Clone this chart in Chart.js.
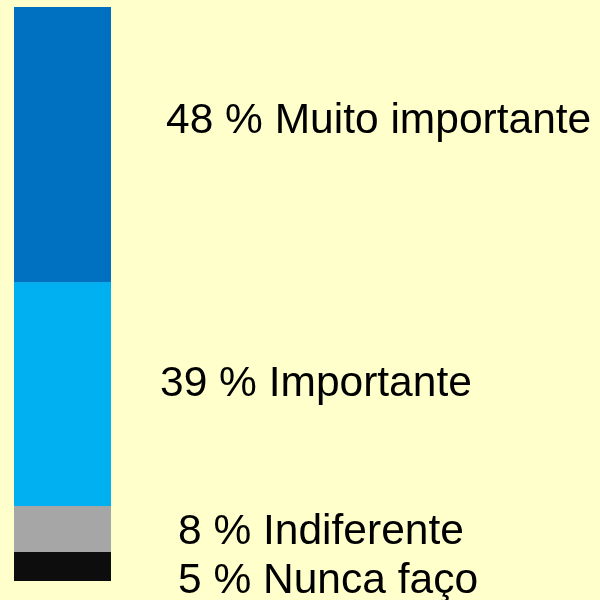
<!DOCTYPE html>
<html>
<head>
<meta charset="utf-8">
<script src="https://cdn.jsdelivr.net/npm/chart.js@4/dist/chart.umd.min.js"></script>
<style>
  html, body { margin: 0; padding: 0; background: #ffffcc; }
  #wrap { width: 600px; height: 600px; }
</style>
</head>
<body>
<div id="wrap"><canvas id="chart" width="600" height="600"></canvas></div>
<script>
// dados (de baixo para cima)
const categorias = ["Nunca faço", "Indiferente", "Importante", "Muito importante"];
const percentuais = [5, 8, 39, 48];
const cores = ["#0d0d0d", "#a6a6a6", "#00b0f0", "#0070c0"];

// deslocamento dos rótulos em relação ao centro de cada segmento
const rotuloDx = [67, 67, 49, 55];
const rotuloDy = [26.4, 14.7, 1.5, -11.8];

const rotulosPlugin = {
  id: "rotulos",
  afterDatasetsDraw(chart) {
    const ctx = chart.ctx;
    const y = chart.scales.y;
    const right = chart.chartArea.right;
    ctx.save();
    ctx.font = '42.5px "Liberation Sans", Arial, sans-serif';
    ctx.fillStyle = "#000";
    ctx.textAlign = "left";
    ctx.textBaseline = "alphabetic";
    let base = 0;
    percentuais.forEach((v, i) => {
      const meio = y.getPixelForValue(base + v / 2);
      ctx.fillText(v + " % " + categorias[i], right + rotuloDx[i], meio + rotuloDy[i]);
      base += v;
    });
    ctx.restore();
  },
};

const ctx = document.getElementById("chart").getContext("2d");
new Chart(ctx, {
  type: "bar",
  data: {
    labels: [""],
    datasets: categorias.map((c, i) => ({
      label: c,
      data: [percentuais[i]],
      backgroundColor: cores[i],
      borderWidth: 0,
      barPercentage: 1,
      categoryPercentage: 1,
    })),
  },
  options: {
    responsive: false,
    animation: false,
    layout: {
      padding: { left: 14, right: 489, top: 7, bottom: 19 },
    },
    plugins: {
      legend: { display: false },
      tooltip: { enabled: false },
    },
    scales: {
      x: { stacked: true, display: false },
      y: { stacked: true, display: false, min: 0, max: 100 },
    },
  },
  plugins: [rotulosPlugin],
});
</script>
</body>
</html>
